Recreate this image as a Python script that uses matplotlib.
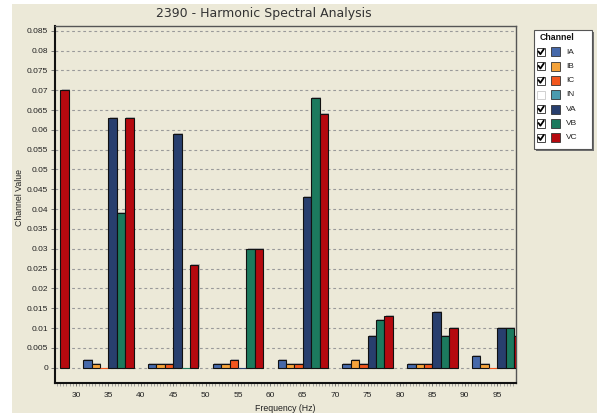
import numpy as np
import matplotlib
matplotlib.use('Agg')
import matplotlib.pyplot as plt
import matplotlib.patheffects as pe
from matplotlib.patches import Rectangle
from matplotlib.lines import Line2D
from matplotlib.ticker import MultipleLocator, FuncFormatter

# harmonic groups (Hz) and channel values
freqs = [25, 35, 45, 55, 65, 75, 85, 95]
ia = [np.nan, 0.002, 0.001, 0.001, 0.002, 0.001, 0.001, 0.003]
ib = [np.nan, 0.001, 0.001, 0.001, 0.001, 0.002, 0.001, 0.001]
ic = [np.nan, 0.0, 0.001, 0.002, 0.001, 0.001, 0.001, 0.0]
va = [np.nan, 0.063, 0.059, 0.0, 0.043, 0.008, 0.014, 0.010]
vb = [np.nan, 0.039, 0.0, 0.030, 0.068, 0.012, 0.008, 0.010]
vc = [0.070, 0.063, 0.026, 0.030, 0.064, 0.013, 0.010, 0.008]

channels = ['IA', 'IB', 'IC', 'IN', 'VA', 'VB', 'VC']
checked = [True, True, True, False, True, True, True]
colors = {'IA': '#4669AA', 'IB': '#F5A33A', 'IC': '#F2561D', 'IN': '#4A9BAE',
          'VA': '#283F6E', 'VB': '#1C7A5E', 'VC': '#B5090F'}
shown = [('IA', ia), ('IB', ib), ('IC', ic), ('VA', va), ('VB', vb), ('VC', vc)]

BEIGE = '#ECE9D8'
W, H = 597, 415
FONT = 'Liberation Sans'


def fx(x):
    return x / W


def fy(y):
    return 1 - y / H


fig = plt.figure(figsize=(W / 100, H / 100), dpi=100, facecolor='white')
fig.add_artist(Rectangle((fx(12), fy(413)), (W - 12) / W, 409 / H,
                         transform=fig.transFigure, facecolor=BEIGE,
                         edgecolor='none', zorder=-10))

ax = fig.add_axes([fx(55), fy(383), (516 - 55) / W, (383 - 26) / H])
ax.set_facecolor(BEIGE)

bw = 1.3
shadow = [pe.SimplePatchShadow(offset=(0.8, 0.8), shadow_rgbFace='#a0a0a0', alpha=0.7),
          pe.Normal()]
for i, (name, vals) in enumerate(shown):
    vals = np.array(vals, dtype=float)
    col = colors[name]
    edges = [col if v == 0 else '#111111' for v in vals]
    ax.bar(np.array(freqs) + (i - 2.5) * bw, vals, bw, color=col,
           edgecolor=edges, linewidth=0.8, zorder=3, path_effects=shadow)

ax.set_xlim(26.76, 97.9)
ax.set_ylim(-0.00386, 0.0862)
ax.set_xticks(np.arange(30, 100, 5))
ax.xaxis.set_minor_locator(MultipleLocator(0.5))
ax.set_yticks(np.arange(0, 0.0851, 0.005))
ax.yaxis.set_major_formatter(FuncFormatter(
    lambda v, p: ('%.3f' % v).rstrip('0').rstrip('.')))

ax.yaxis.grid(True, color='#9a9a9a', linestyle=(0, (2.5, 2.5)), linewidth=0.8)
ax.set_axisbelow(True)

ax.tick_params(axis='x', which='major', length=2.5, width=0.6, color='#666666',
               pad=4, labelsize=6, labelcolor='#222222')
ax.tick_params(axis='x', which='minor', length=1.8, width=0.5, color='#888888')
ax.tick_params(axis='y', length=3, width=0.6, color='#666666', pad=2,
               labelsize=6, labelcolor='#222222')
for lab in ax.get_xticklabels() + ax.get_yticklabels():
    lab.set_fontfamily(FONT)

for side in ['left', 'bottom']:
    ax.spines[side].set_color('#111111')
    ax.spines[side].set_linewidth(1.5)
for side in ['top', 'right']:
    ax.spines[side].set_color('#555555')
    ax.spines[side].set_linewidth(1.0)

fig.text(fx(264), fy(13), '2390 - Harmonic Spectral Analysis', ha='center',
         va='center', fontsize=9, color='#333333', family='DejaVu Sans')
fig.text(fx(285), fy(408), 'Frequency (Hz)', ha='center', va='center',
         fontsize=6.3, color='#222222', family=FONT)
fig.text(fx(19), fy(197), 'Channel Value', ha='center', va='center',
         rotation=90, fontsize=6.3, color='#222222', family=FONT)

# legend box with check boxes
fig.add_artist(Rectangle((fx(536), fy(151)), 58 / W, 119 / H,
                         transform=fig.transFigure, facecolor='#6f6f6f',
                         edgecolor='none'))
fig.add_artist(Rectangle((fx(534), fy(149)), 58 / W, 119 / H,
                         transform=fig.transFigure, facecolor='white',
                         edgecolor='#555555', linewidth=0.8))
fig.text(fx(540), fy(38), 'Channel', ha='left', va='center', fontsize=6.3,
         fontweight='bold', color='#111111', family=FONT)
for k, name in enumerate(channels):
    y = 52 + k * 14.3
    fig.add_artist(Rectangle((fx(537), fy(y + 4)), 8 / W, 8 / H,
                             transform=fig.transFigure, facecolor='white',
                             edgecolor='#444444' if checked[k] else '#d0d0d0',
                             linewidth=0.7))
    if checked[k]:
        fig.add_artist(Line2D([fx(538.6), fx(540.4), fx(543.6)],
                              [fy(y - 0.3), fy(y + 2.2), fy(y - 2.6)],
                              transform=fig.transFigure, color='black',
                              linewidth=1.3))
    fig.add_artist(Rectangle((fx(551), fy(y + 4.5)), 9 / W, 9 / H,
                             transform=fig.transFigure, facecolor=colors[name],
                             edgecolor='#333333', linewidth=0.6))
    fig.text(fx(566), fy(y), name, ha='left', va='center', fontsize=6,
             color='#222222', family=FONT)

fig.savefig('out.png', dpi=100, facecolor='white')
